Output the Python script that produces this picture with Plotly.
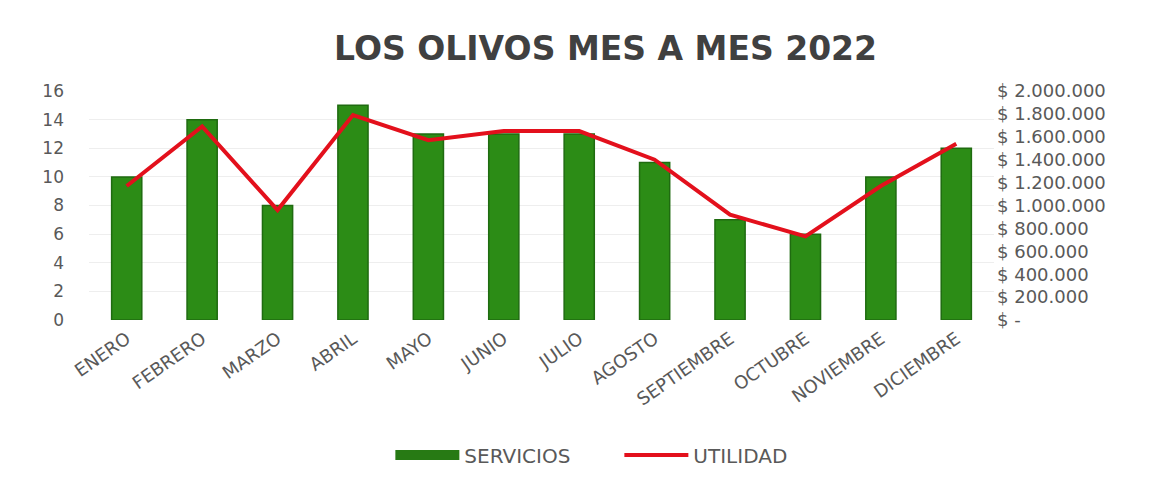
import plotly.graph_objects as go

meses = ["ENERO", "FEBRERO", "MARZO", "ABRIL", "MAYO", "JUNIO", "JULIO",
         "AGOSTO", "SEPTIEMBRE", "OCTUBRE", "NOVIEMBRE", "DICIEMBRE"]
servicios = [10, 14, 8, 15, 13, 13, 13, 11, 7, 6, 10, 12]
utilidad = [1170000, 1690000, 960000, 1790000, 1570000, 1650000, 1650000,
            1400000, 920000, 730000, 1170000, 1540000]

left_ticks = [0, 2, 4, 6, 8, 10, 12, 14, 16]
right_ticks = [0, 200000, 400000, 600000, 800000, 1000000, 1200000,
               1400000, 1600000, 1800000, 2000000]
right_text = ["$ -", "$ 200.000", "$ 400.000", "$ 600.000", "$ 800.000",
              "$ 1.000.000", "$ 1.200.000", "$ 1.400.000", "$ 1.600.000",
              "$ 1.800.000", "$ 2.000.000"]

FONT = "DejaVu Sans"
GRAY = "#595959"
GREEN = "#2c8c16"
RED = "#e3101c"

fig = go.Figure()
fig.add_trace(go.Bar(
    x=meses, y=servicios, name="SERVICIOS", showlegend=False,
    marker=dict(color=GREEN, line=dict(color="#1f6b10", width=1.5)),
    width=0.4,
))
# legend entry drawn as a wide green block
fig.add_trace(go.Scatter(
    x=[None], y=[None], name="SERVICIOS", mode="lines",
    line=dict(color="#277a14", width=11),
))
fig.add_trace(go.Scatter(
    x=meses, y=utilidad, name="UTILIDAD", yaxis="y2",
    mode="lines", line=dict(color=RED, width=4),
))

fig.update_layout(
    width=1174, height=478,
    margin=dict(l=81, r=188, t=83, b=162),
    paper_bgcolor="white", plot_bgcolor="white",
    title=dict(text="<b>LOS OLIVOS MES A MES 2022</b>", x=0.509, xanchor="center",
               xref="container", y=0.916, yanchor="middle", yref="container",
               font=dict(family=FONT, size=33, color="#404040")),
    font=dict(family=FONT, color=GRAY),
    xaxis=dict(tickangle=-35, tickfont=dict(size=18, color=GRAY),
               showgrid=False, showline=False, ticks="",
               ticklabelstandoff=4),
    yaxis=dict(range=[0, 16], tickvals=left_ticks,
               tickfont=dict(size=17, color=GRAY),
               showgrid=True, gridcolor="#eeeeee", gridwidth=1,
               zeroline=False, ticklabelstandoff=24),
    yaxis2=dict(range=[0, 2000000], overlaying="y", side="right",
                tickvals=right_ticks, ticktext=right_text,
                tickfont=dict(size=18, color=GRAY),
                showgrid=False, zeroline=False, ticklabelstandoff=2),
    legend=dict(orientation="h", x=0.333, xanchor="left", y=-0.59,
                yanchor="middle", font=dict(size=20, color=GRAY),
                itemwidth=64, entrywidth=150, entrywidthmode="pixels",
                tracegroupgap=0),
    showlegend=True,
)

fig.write_html("out.html")
